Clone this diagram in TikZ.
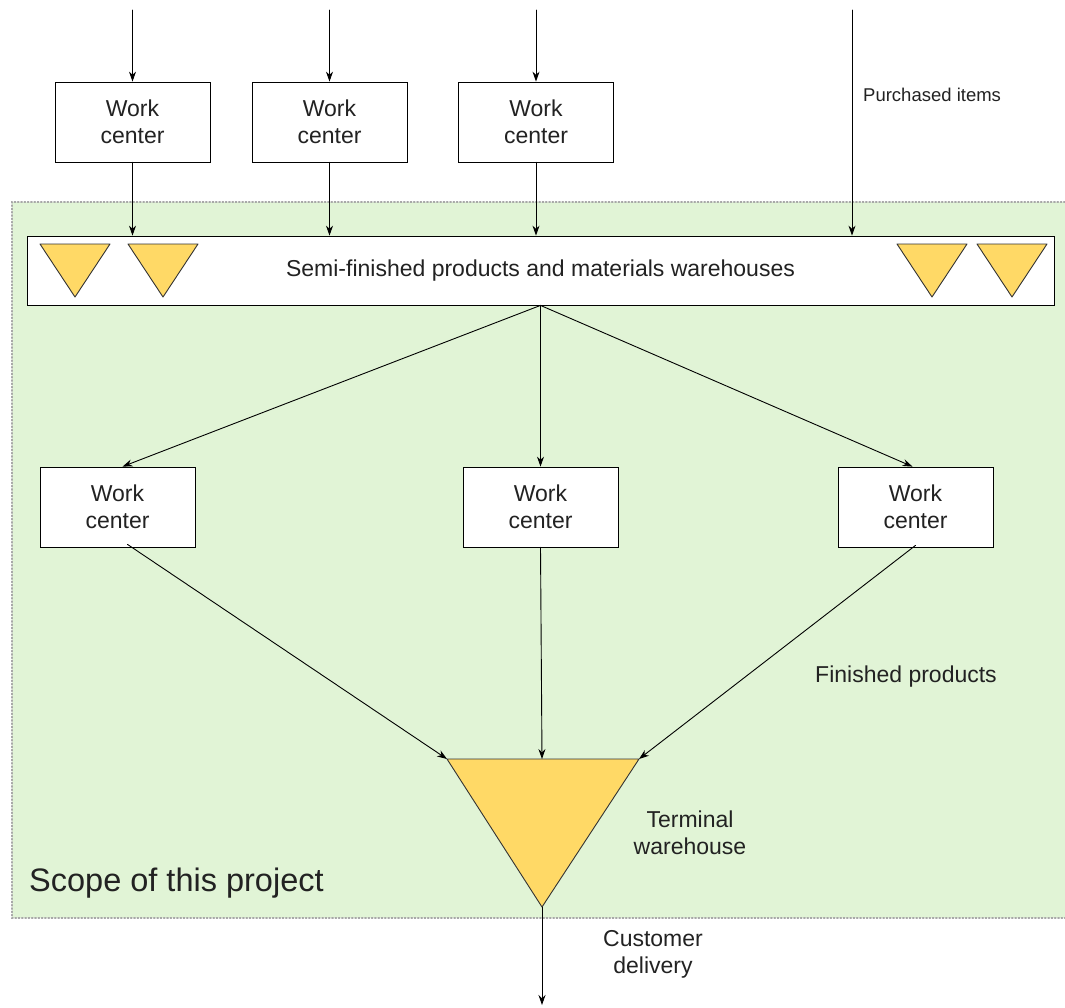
\documentclass[tikz,border=0pt]{standalone}
\usepackage{fontspec}
\setmainfont{Liberation Sans}
\usetikzlibrary{arrows.meta}
\definecolor{scopegreen}{HTML}{E1F4D6}
\definecolor{whyellow}{HTML}{FFD966}
\definecolor{dotgray}{HTML}{A8A8A8}
\definecolor{textgray}{HTML}{222222}
\tikzset{
  wcbox/.style={draw,thick,fill=white,minimum width=155pt,minimum height=80pt,align=center,inner sep=0pt},
  flow/.style={-{Stealth[length=10pt,width=7pt]},line width=0.9pt},
  whtri/.style={fill=whyellow,draw=black!80,line width=0.9pt,line join=round}
}
\begin{document}
\begin{tikzpicture}[x=1pt,y=-1pt,line cap=round,font=\fontsize{23}{27}\selectfont,text=textgray]
	\useasboundingbox (0,0) rectangle (1065,1007);
	
	% scope of the project
	\fill[scopegreen] (12,202) rectangle (1065,918);
	\draw[dotgray,dotted,line width=1.3pt] (1065,202) -- (12,202) -- (12,918) -- (1065,918);
	\node[anchor=west,font=\fontsize{32.5}{36}\selectfont,inner sep=0pt] (scope) at (29,883) {Scope of this project};
	
	% upstream work centers
	\node[wcbox] (wc1) at (132.5,122) {Work\\center};
	\node[wcbox] (wc2) at (329.5,122) {Work\\center};
	\node[wcbox] (wc3) at (536,122) {Work\\center};
	\coordinate (in1) at (wc1.north |- 0,10);
	\coordinate (in2) at (wc2.north |- 0,10);
	\coordinate (in3) at (wc3.north |- 0,10);
	\coordinate (pin) at (852,10);
	\node[anchor=west,font=\fontsize{18.5}{22}\selectfont,inner sep=0pt] (pur) at (863,95) {Purchased items};
	
	% warehouses bar
	\node[draw,thick,fill=white,minimum width=1027pt,minimum height=69pt,inner sep=0pt] (bar) at (540.5,270.5) {Semi-finished products and materials warehouses};
	\foreach \x in {75,163,932,1012}
		\draw[whtri] (\x-35,244) -- (\x+35,244) -- (\x,297) -- cycle;
	
	\draw[flow] (in1) -- (wc1);
	\draw[flow] (in2) -- (wc2);
	\draw[flow] (in3) -- (wc3);
	\draw[flow] (wc1) -- (wc1.south |- bar.north);
	\draw[flow] (wc2) -- (wc2.south |- bar.north);
	\draw[flow] (wc3) -- (wc3.south |- bar.north);
	\draw[flow] (pin) -- (pin |- bar.north);
	
	% downstream work centers
	\node[wcbox] (wc4) at (117.5,507) {Work\\center};
	\node[wcbox] (wc5) at (540.5,507) {Work\\center};
	\node[wcbox] (wc6) at (915.5,507) {Work\\center};
	\draw[flow] (bar.south) -- ([xshift=5pt]wc4.north);
	\draw[flow] (bar.south) -- (wc5.north);
	\draw[flow] (bar.south) -- ([xshift=-3pt]wc6.north);
	
	% terminal warehouse
	\coordinate (twl) at (447,759);
	\coordinate (twr) at (639,759);
	\coordinate (twm) at (542,759);
	\coordinate (twa) at (542,907);
	\draw[whtri] (twl) -- (twr) -- (twa) -- cycle;
	\draw[flow] ([xshift=10pt,yshift=3pt]wc4.south) -- (twl);
	\draw[flow] (wc5.south) -- (twm);
	\draw[flow] ([yshift=2pt]wc6.south) -- (twr);
	\coordinate (out) at (542,1005);
	\draw[flow] (twa) -- (out);
	
	\node[align=center] (fin) at (906,677) {Finished products};
	\node[align=center] (term) at (690,833) {Terminal\\warehouse};
	\node[align=center] (cust) at (653,954) {Customer\\delivery};
\end{tikzpicture}
\end{document}
